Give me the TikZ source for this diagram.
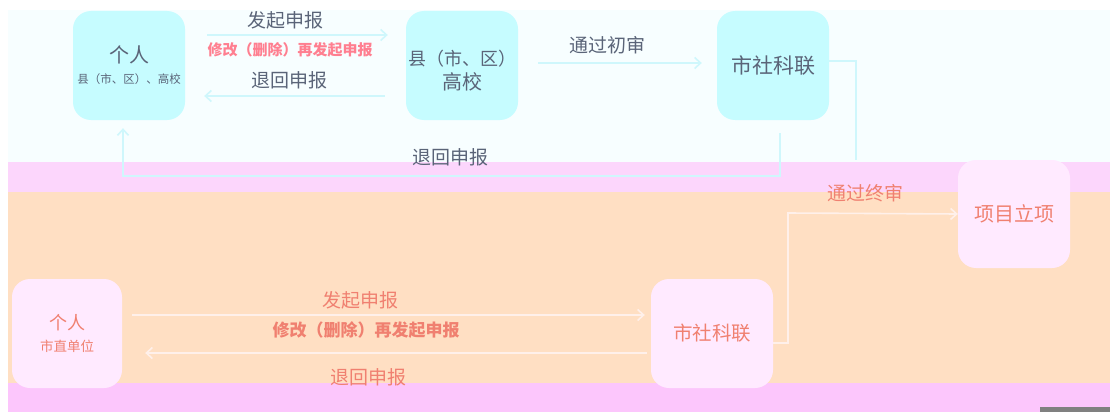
\documentclass[tikz,border=0pt]{standalone}
\usepackage{fontspec}
\setmainfont{Noto Sans CJK SC}
\usetikzlibrary{arrows.meta}
\definecolor{topbg}{HTML}{F7FEFF}
\definecolor{pinkA}{HTML}{FCD6FC}
\definecolor{peach}{HTML}{FFDFC3}
\definecolor{pinkB}{HTML}{FCC6FC}
\definecolor{cyanbox}{HTML}{C6FCFF}
\definecolor{pinkbox}{HTML}{FFEAFF}
\definecolor{toptext}{HTML}{5A6478}
\definecolor{redlab}{HTML}{FF7F90}
\definecolor{salmon}{HTML}{F08070}
\definecolor{toparr}{HTML}{CFF7FC}
\definecolor{botarr}{HTML}{FFF0EA}
\tikzset{
  topbox/.style={draw=none, fill=cyanbox, rounded corners=18pt, minimum width=112pt, minimum height=109pt, inner sep=0pt, text=toptext, align=center},
  botbox/.style={draw=none, fill=pinkbox, rounded corners=18pt, minimum height=109pt, inner sep=0pt, text=salmon, align=center},
  toplab/.style={text=toptext, font=\fontsize{19}{22}\selectfont, inner sep=0pt},
  botlab/.style={text=salmon, font=\fontsize{19}{22}\selectfont, inner sep=0pt},
  topcon/.style={draw=toparr, line width=1.6pt},
  botcon/.style={draw=botarr, line width=1.6pt},
  tip/.style={-{Straight Barb[length=6pt,width=11pt]}}
}
\begin{document}
\begin{tikzpicture}[x=1pt,y=-1pt]
\useasboundingbox (0,0) rectangle (1110,412);
% background bands
\fill[white] (0,0) rectangle (1110,412);
\fill[topbg] (8,10) rectangle (1110,162);
\fill[pinkA] (8,162) rectangle (1110,192);
\fill[peach] (8,192) rectangle (1110,383);
\fill[pinkB] (8,383) rectangle (1110,412);
\fill[gray] (1040,407) rectangle (1110,412);
% nodes
\node[topbox] (p1) at (129,65.5) {{\fontsize{20}{24}\selectfont 个人}\\[9pt]{\fontsize{11.5}{14}\selectfont 县（市、区）、高校}};
\node[topbox] (xq) at (462,65.5) {};
\node[text=toptext, align=center, inner sep=0pt] (xqt) at ([yshift=-5pt]xq.center) {\fontsize{18}{24}\selectfont 县（市、区）\\[5pt] \fontsize{20}{24}\selectfont 高校};
\node[topbox] (sk1) at (773,65.5) {\fontsize{21}{24}\selectfont 市社科联};
\node[botbox, minimum width=112pt, minimum height=108pt] (xm) at (1014,214) {\fontsize{20}{24}\selectfont 项目立项};
\node[botbox, minimum width=110pt] (p2) at (67,333.5) {{\fontsize{18}{22}\selectfont 个人}\\[8pt]{\fontsize{13.5}{16}\selectfont 市直单位}};
\node[botbox, minimum width=122pt] (sk2) at (712,333.5) {\fontsize{19.5}{24}\selectfont 市社科联};
% helper coordinates
\coordinate (c1) at (856,61);
\coordinate (c1e) at (856,160);
\coordinate (c2) at (780,176);
\coordinate (c3) at (123,176);
\coordinate (c4) at (788,213);
% top connectors
\draw[topcon,tip] ([xshift=22pt,yshift=30.5pt]p1.east) -- ([xshift=-18pt,yshift=30.5pt]xq.west);
\draw[topcon,tip] ([xshift=-21pt,yshift=-30.5pt]xq.west) -- ([xshift=19pt,yshift=-30.5pt]p1.east);
\draw[topcon,tip] ([xshift=20pt,yshift=2.5pt]xq.east) -- ([xshift=-15pt,yshift=2.5pt]sk1.west);
\draw[topcon] ([yshift=4.5pt]sk1.east) -- (c1) -- (c1e);
\draw[topcon,tip] ([xshift=7pt,yshift=-13pt]sk1.south) -- (c2) -- (c3) -- ([xshift=-6pt,yshift=-8pt]p1.south);
% bottom connectors
\draw[botcon,tip] ([yshift=-9.5pt]sk2.east) -| (c4) -- (xm.west);
\draw[botcon,tip] ([xshift=10pt,yshift=18.5pt]p2.east) -- ([xshift=-6pt,yshift=18.5pt]sk2.west);
\draw[botcon,tip] ([xshift=-4pt,yshift=-19.5pt]sk2.west) -- ([xshift=23pt,yshift=-19.5pt]p2.east);
% labels
\node[toplab] (l1) at (285,20) {发起申报};
\node[text=redlab, font=\fontsize{15}{18}\selectfont\bfseries, inner sep=0pt] (l2) at (290,50) {修改（删除）再发起申报};
\node[toplab] (l3) at (289,80) {退回申报};
\node[toplab] (l4) at (607,45) {通过初审};
\node[toplab] (l5) at (450,157) {退回申报};
\node[botlab] (l6) at (865,193) {通过终审};
\node[botlab] (l7) at (360,300) {发起申报};
\node[text=salmon, font=\fontsize{17}{20}\selectfont\bfseries, inner sep=0pt] (l8) at (366,330) {修改（删除）再发起申报};
\node[botlab] (l9) at (368,377) {退回申报};
\end{tikzpicture}
\end{document}
